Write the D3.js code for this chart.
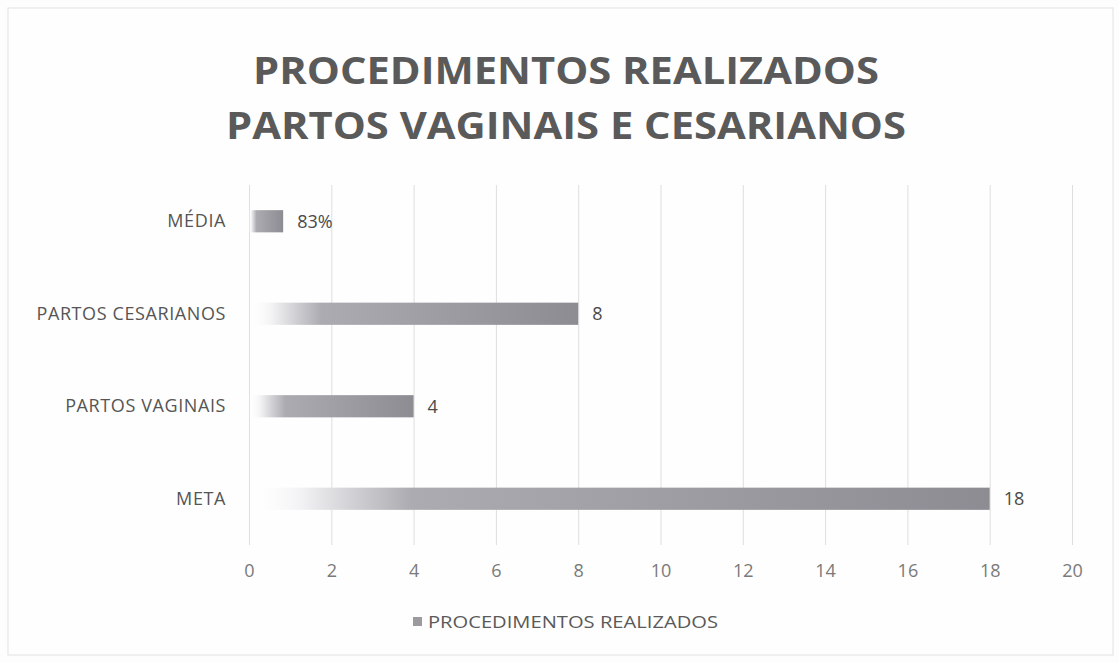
<!DOCTYPE html>
<html>
<head>
<meta charset="utf-8">
<script src="https://cdn.jsdelivr.net/npm/d3@7"></script>
<style>
  html, body { margin: 0; padding: 0; background: #fdfdfd; }
  svg { display: block; font-family: "Open Sans", "Noto Sans", sans-serif; }
</style>
</head>
<body>
<div id="chart"></div>
<script>
// Dados do gráfico
const categories = ['MÉDIA', 'PARTOS CESARIANOS', 'PARTOS VAGINAIS', 'META'];
const values = [0.83, 8, 4, 18];
const valueLabels = ['83%', '8', '4', '18'];
const xTicks = [0, 2, 4, 6, 8, 10, 12, 14, 16, 18, 20];
const titleLines = ['PROCEDIMENTOS REALIZADOS', 'PARTOS VAGINAIS E CESARIANOS'];
const seriesName = 'PROCEDIMENTOS REALIZADOS';

const width = 1119, height = 663;
const margin = {top: 180, right: 47, bottom: 118, left: 249};

const svg = d3.select('#chart')
    .append('svg')
    .attr('width', width)
    .attr('height', height);

// Moldura
svg.append('rect')
    .attr('x', 8).attr('y', 8)
    .attr('width', width - 14).attr('height', height - 16)
    .attr('fill', '#fefefe')
    .attr('stroke', '#e2e2e2');

// Gradiente das barras
const grad = svg.append('defs')
    .append('linearGradient')
    .attr('id', 'bar-gradient')
    .attr('x1', '0%').attr('y1', '0%')
    .attr('x2', '100%').attr('y2', '0%');
[
    {o: '0%', c: '#ffffff', a: 0},
    {o: '7%', c: '#f2f2f4', a: 1},
    {o: '22%', c: '#ababb1', a: 1},
    {o: '100%', c: '#8e8c93', a: 1}
].forEach(s => grad.append('stop')
    .attr('offset', s.o)
    .attr('stop-color', s.c)
    .attr('stop-opacity', s.a));

// Título
const title = svg.append('text')
    .attr('text-anchor', 'middle')
    .attr('fill', '#5a5a5a')
    .style('font-weight', 'bold')
    .style('font-size', '38px');
titleLines.forEach((t, i) => {
    title.append('tspan')
        .attr('x', 566)
        .attr('y', 84 + i * 55)
        .attr('textLength', i === 0 ? 626 : 680)
        .attr('lengthAdjust', 'spacingAndGlyphs')
        .text(t);
});

// Escalas
const x = d3.scaleLinear()
    .domain([0, 20])
    .range([margin.left, width - margin.right]);

const y = d3.scaleBand()
    .domain(categories)
    .range([margin.top - 5, height - margin.bottom])
    .paddingInner(0.76)
    .paddingOuter(0.38);

const plotBottom = height - margin.bottom;

// Linhas de grade
svg.append('g')
    .attr('transform', `translate(0,${plotBottom})`)
    .call(d3.axisBottom(x).tickValues(xTicks).tickSize(-(plotBottom - 185)).tickFormat(''))
    .call(g => g.select('.domain').remove())
    .call(g => g.selectAll('line').attr('stroke', '#dedede'));

// Rótulos do eixo X
svg.append('g')
    .attr('transform', `translate(0,${plotBottom + 16})`)
    .call(d3.axisBottom(x).tickValues(xTicks).tickSize(0))
    .call(g => g.select('.domain').remove())
    .call(g => g.selectAll('text')
        .attr('fill', '#7a7a7a')
        .style('font-size', '18px')
        .style('font-family', '"Open Sans", sans-serif'));

// Rótulos das categorias
svg.append('g')
    .attr('transform', `translate(${margin.left - 20},0)`)
    .call(d3.axisLeft(y).tickSize(0))
    .call(g => g.select('.domain').remove())
    .call(g => g.selectAll('text')
        .attr('fill', '#555555')
        .style('font-size', '18px')
        .style('letter-spacing', '0.6px')
        .style('font-family', '"Open Sans", sans-serif'));

// Barras
svg.selectAll('.bar')
    .data(values)
    .enter()
    .append('rect')
    .attr('class', 'bar')
    .attr('x', x(0))
    .attr('y', (d, i) => y(categories[i]))
    .attr('width', d => x(d) - x(0))
    .attr('height', y.bandwidth())
    .attr('fill', 'url(#bar-gradient)');

// Valores
svg.selectAll('.value')
    .data(values)
    .enter()
    .append('text')
    .attr('class', 'value')
    .attr('x', d => x(d) + 14)
    .attr('y', (d, i) => y(categories[i]) + y.bandwidth() / 2)
    .attr('dy', '0.35em')
    .attr('fill', '#4a4a4a')
    .style('font-size', '18px')
    .text((d, i) => valueLabels[i]);

// Legenda
const legend = svg.append('g').attr('transform', 'translate(413,622)');
legend.append('rect')
    .attr('x', 0).attr('y', -5)
    .attr('width', 9).attr('height', 9)
    .attr('fill', '#9a9a9f');
legend.append('text')
    .attr('x', 15)
    .attr('dy', '0.35em')
    .attr('fill', '#5a5a5a')
    .style('font-size', '17px')
    .attr('textLength', 290)
    .attr('lengthAdjust', 'spacingAndGlyphs')
    .text(seriesName);
</script>
</body>
</html>
